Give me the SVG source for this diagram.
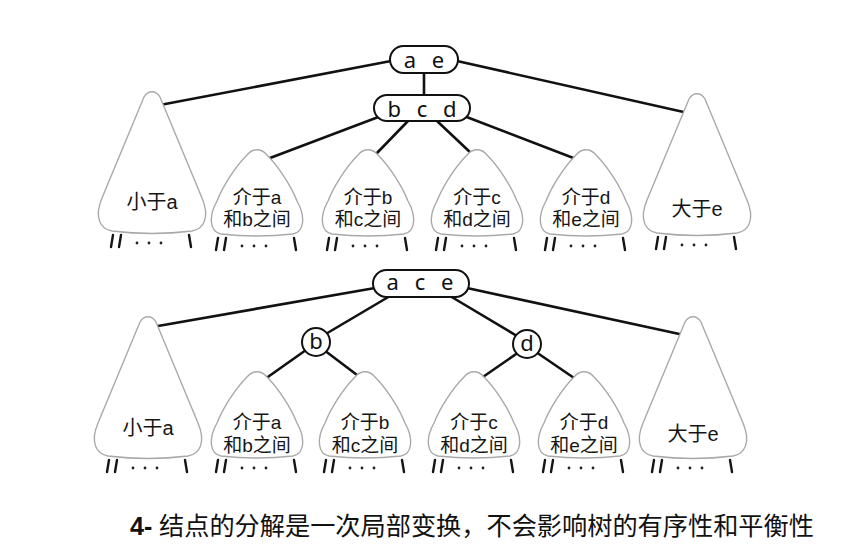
<svg xmlns="http://www.w3.org/2000/svg" xmlns:xlink="http://www.w3.org/1999/xlink" width="860" height="551" viewBox="0 0 860 551">
<style>
.tri{fill:#fff;stroke:#a9a9a9;stroke-width:1.4}
.leg{stroke:#151515;stroke-width:2.4;stroke-linecap:round;fill:none}
.dot{fill:#222}
.box{fill:#fff;stroke:#111;stroke-width:2}
.edge{stroke:#111;stroke-width:2.6;fill:none;stroke-linecap:round}
.key{font-family:"Noto Sans","DejaVu Sans",sans-serif;font-size:22px;fill:#111;text-anchor:middle;word-spacing:10px}
.lab{font-family:"Liberation Sans","Noto Sans CJK SC",sans-serif;font-size:19px;fill:#151515;text-anchor:middle}
.big{font-size:20px}
.cap{font-family:"Liberation Sans","Noto Sans CJK SC",sans-serif;font-size:25.2px;fill:#111}
</style>
<defs>
<path id="bigTri" class="tri" d="M-8,-136 C-4,-143 4,-143 8,-136 L50,-35 C58,-16 52,-4 40,-2 Q0,3 -40,-2 C-52,-4 -58,-16 -50,-35 Z"/>
<path id="medTri" class="tri" d="M-10,-81 C-4,-88 4,-88 10,-81 C22,-69 34,-50 40,-35 C49,-19 47,-4 36,-2 Q0,2 -36,-2 C-47,-4 -49,-19 -40,-35 C-34,-50 -22,-69 -10,-81 Z"/>
<g id="legs">
<path class="leg" d="M-39,2 L-41,14 M-31,2 L-33,14 M37,2 L39,14"/>
<circle class="dot" cx="-15" cy="10" r="1.4"/>
<circle class="dot" cx="-3" cy="10" r="1.4"/>
<circle class="dot" cx="9" cy="10" r="1.4"/>
</g>
</defs>
<rect width="860" height="551" fill="#fff"/>

<g id="connectors">
<line class="edge" x1="424" y1="73" x2="424" y2="95"/>
<line class="edge" x1="391" y1="61" x2="160" y2="105"/>
<line class="edge" x1="457" y1="61" x2="688" y2="113"/>
<line class="edge" x1="381" y1="116" x2="270" y2="158"/>
<line class="edge" x1="408" y1="121" x2="377" y2="153"/>
<line class="edge" x1="437" y1="121" x2="472" y2="154"/>
<line class="edge" x1="464" y1="116" x2="576" y2="159"/>
<line class="edge" x1="375" y1="288" x2="158" y2="326"/>
<line class="edge" x1="467" y1="288" x2="684" y2="335"/>
<line class="edge" x1="390" y1="296" x2="324" y2="335"/>
<line class="edge" x1="450" y1="296" x2="517" y2="336"/>
<line class="edge" x1="306" y1="350" x2="265" y2="379"/>
<line class="edge" x1="324" y1="350" x2="361" y2="378"/>
<line class="edge" x1="519" y1="352" x2="480" y2="379"/>
<line class="edge" x1="536" y1="352" x2="577" y2="380"/>
</g>

<g id="top-ae"><rect class="box" x="390" y="46" width="68" height="27" rx="13.5"/><text class="key" x="424" y="68">a e</text></g>
<g id="top-bcd"><rect class="box" x="374" y="95" width="96" height="26" rx="13"/><text class="key" x="422" y="117">b c d</text></g>

<g id="top-lt" transform="translate(152,233)"><use xlink:href="#bigTri"/><use xlink:href="#legs"/><text class="lab big" x="0" y="-24">小于a</text></g>
<g id="top-m1" transform="translate(257,236)"><use xlink:href="#medTri"/><use xlink:href="#legs"/><text class="lab" x="0" y="-32">介于a</text><text class="lab" x="0" y="-10">和b之间</text></g>
<g id="top-m2" transform="translate(368,236)"><use xlink:href="#medTri"/><use xlink:href="#legs"/><text class="lab" x="0" y="-32">介于b</text><text class="lab" x="0" y="-10">和c之间</text></g>
<g id="top-m3" transform="translate(477,236)"><use xlink:href="#medTri"/><use xlink:href="#legs"/><text class="lab" x="0" y="-32">介于c</text><text class="lab" x="0" y="-10">和d之间</text></g>
<g id="top-m4" transform="translate(586,236)"><use xlink:href="#medTri"/><use xlink:href="#legs"/><text class="lab" x="0" y="-32">介于d</text><text class="lab" x="0" y="-10">和e之间</text></g>
<g id="top-rt" transform="translate(697,235)"><use xlink:href="#bigTri"/><use xlink:href="#legs"/><text class="lab big" x="0" y="-19">大于e</text></g>

<g id="bot-ace"><rect class="box" x="373" y="270" width="96" height="27" rx="13.5"/><text class="key" x="420" y="290">a c e</text></g>
<g id="bot-b"><circle class="box" cx="316" cy="342" r="14"/><text class="key" x="316" y="349">b</text></g>
<g id="bot-d"><circle class="box" cx="527" cy="344" r="14"/><text class="key" x="527" y="351">d</text></g>

<g id="bot-lt" transform="translate(148,458)"><use xlink:href="#bigTri"/><use xlink:href="#legs"/><text class="lab big" x="0" y="-23">小于a</text></g>
<g id="bot-m1" transform="translate(257,458)"><use xlink:href="#medTri"/><use xlink:href="#legs"/><text class="lab" x="0" y="-29">介于a</text><text class="lab" x="0" y="-6">和b之间</text></g>
<g id="bot-m2" transform="translate(365,458)"><use xlink:href="#medTri"/><use xlink:href="#legs"/><text class="lab" x="0" y="-29">介于b</text><text class="lab" x="0" y="-6">和c之间</text></g>
<g id="bot-m3" transform="translate(474,458)"><use xlink:href="#medTri"/><use xlink:href="#legs"/><text class="lab" x="0" y="-29">介于c</text><text class="lab" x="0" y="-6">和d之间</text></g>
<g id="bot-m4" transform="translate(584,458)"><use xlink:href="#medTri"/><use xlink:href="#legs"/><text class="lab" x="0" y="-29">介于d</text><text class="lab" x="0" y="-6">和e之间</text></g>
<g id="bot-rt" transform="translate(693,458)"><use xlink:href="#bigTri"/><use xlink:href="#legs"/><text class="lab big" x="0" y="-17">大于e</text></g>

<text class="cap" x="130" y="535"><tspan font-weight="bold">4-</tspan> <tspan x="159">结点的分解是一次局部变换，不会影响树的有序性和平衡性</tspan></text>
</svg>
